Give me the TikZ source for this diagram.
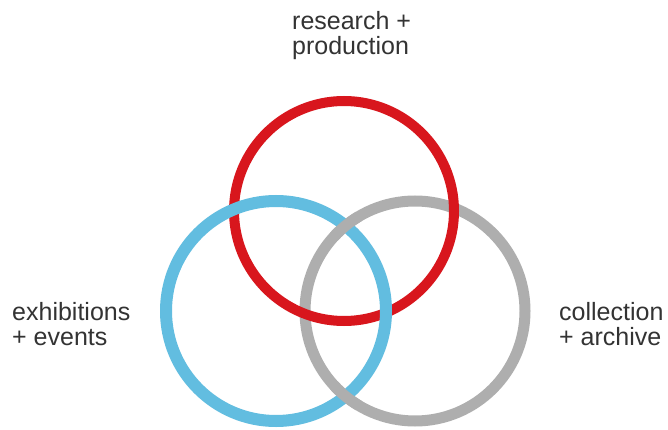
\documentclass[tikz,border=0pt]{standalone}
\usepackage{fontspec}
\setmainfont{Liberation Sans}
\usetikzlibrary{intersections}
\definecolor{ringred}{HTML}{D8161D}
\definecolor{ringblue}{HTML}{62BDE0}
\definecolor{ringgray}{HTML}{AEAEAE}
\definecolor{labelink}{HTML}{333333}
\begin{document}
\begin{tikzpicture}[x=1pt,y=-1pt,
  ring/.style={line width=11pt},
  labeltext/.style={font=\fontsize{25}{25}\selectfont, text=labelink,
    align=left, inner sep=0pt, anchor=base west}]
\useasboundingbox (0,0) rectangle (668,430);
\fill[white] (0,0) rectangle (668,430);

% centres of the three rings
\coordinate (cR) at (344,211);
\coordinate (cB) at (276,311);
\coordinate (cG) at (415,311);

% rings: gray at the bottom, red over gray, blue over red
\draw[ring, ringgray, name path=grayring] (cG) circle (110);
\draw[ring, ringred, line width=10pt] (cR) circle (110);
\draw[ring, ringblue, line width=12pt, name path=bluering] (cB) circle (110);

% gray passes over blue at both of their crossings
\path[name intersections={of=grayring and bluering, by={xa,xb}}];
\foreach \p in {xa,xb} {
  \begin{scope}
    \clip (\p) circle (17);
    \draw[ring, ringgray] (cG) circle (110);
  \end{scope}
}

% labels (anchored at the baseline of their last line)
\node[labeltext] (research) at (292,55) {research +\\production};
\node[labeltext] (exhibitions) at (12,345) {exhibitions\\+ events};
\node[labeltext] (collection) at (559,345) {collection\\+ archive};
\end{tikzpicture}
\end{document}
